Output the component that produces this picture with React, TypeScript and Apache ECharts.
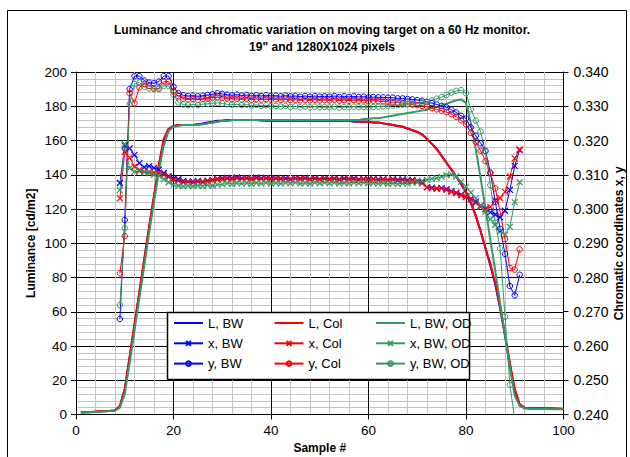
import React, { useEffect, useRef } from "react";
import * as echarts from "echarts";

const FONT = "'Liberation Sans', Arial, sans-serif";
const BLUE = "#0000ff";
const RED = "#ff0000";
const GREEN = "#339966";

const TITLE = 'Luminance and chromatic variation on moving target on a 60 Hz monitor.\n19" and 1280X1024 pixels';

// Sample numbers 1..100 for luminance; chromaticity starts at sample 9
const LUM_START = 1;
const CHROMA_START = 9;

// Luminance [cd/m2], samples 1..100
const L_BW = [
  1.2, 1.3, 1.3, 1.5, 1.8, 2, 2, 2.3,
  5, 14.5, 33, 52, 71, 90, 109, 127, 145, 160, 166.5, 168.5,
  169, 169, 169, 169, 169.5, 170, 170.5, 171, 171.5, 171.5,
  172, 172, 172, 172, 172, 172, 172, 172, 171.5, 171.5,
  171.5, 171.5, 171.5, 171.5, 171.5, 171.5, 171.5, 171.5, 171.5, 171.5,
  171.5, 171.5, 171.5, 171.5, 171.5, 171.5, 171, 171, 171, 171,
  170.5, 170.5, 170, 169.5, 169, 168.5, 168, 167, 166, 165,
  163.5, 161, 158, 155, 151, 147, 143, 139, 134.5, 129.5,
  123.5, 116, 107, 97, 87, 76, 62, 46, 29, 14,
  6, 4, 3.8, 3.6, 3.6, 3.5, 3.5, 3.4, 3.3, 3.2,
];
const L_COL = [
  1.5, 1.5, 1.5, 1.8, 2, 2, 2.2, 2.5,
  5, 15, 34, 53, 72, 91, 110, 128, 146, 161, 167, 168.5,
  169, 169, 169, 169, 169.5, 169.5, 170, 170.5, 171, 171.5,
  171.5, 172, 172, 172, 172, 172, 172, 171.5, 171.5, 171.5,
  171.5, 171.5, 171.5, 171.5, 171.5, 171.5, 171.5, 171.5, 171.5, 171.5,
  171.5, 171.5, 171.5, 171.5, 171.5, 171.5, 171.5, 171, 171, 171,
  170.5, 170.5, 170, 169.5, 169, 168.5, 168, 167, 166, 165,
  163.5, 161, 158, 155, 151, 147, 143, 139, 135, 130,
  124, 116, 107, 97, 88, 77, 63, 47, 30, 15,
  6, 4, 3.8, 3.8, 3.8, 3.8, 3.6, 3.6, 3.4, 3.2,
];
const L_BW_OD = [
  1.2, 1.2, 1.5, 1.5, 1.8, 1.8, 2, 2.2,
  4, 12, 30, 49, 68, 87, 106, 124, 142, 157, 165.5, 168,
  168.5, 169, 169, 169, 169, 169.5, 170, 170.5, 171, 171.5,
  171.5, 172, 172, 172, 172, 172, 172, 172, 172, 172,
  172, 172, 172, 172, 172, 172, 172, 172, 172, 172,
  172, 172, 172, 172, 172, 172, 172, 172, 172.5, 172.5,
  173, 173, 173.5, 174, 174.5, 175, 175.5, 176, 176.5, 177,
  177.5, 178, 179, 179.5, 180.5, 181.5, 182.5, 183.5, 184, 182,
  170, 155, 138, 120, 102, 84, 65, 46, 27, 11,
  5, 3.5, 3.2, 3.2, 3.2, 3.2, 3.2, 3, 3, 3,
];

// Chromatic coordinate x, samples 9..91
const X_BW = [
  0.3076, 0.3185, 0.3177, 0.3158, 0.3134, 0.3122, 0.3125, 0.312, 0.3115, 0.3105, 0.3096, 0.3089,
  0.3087, 0.3082, 0.308, 0.308, 0.3082, 0.308, 0.3083, 0.3085, 0.3088, 0.309,
  0.3091, 0.309, 0.3092, 0.309, 0.3091, 0.3089, 0.3092, 0.309, 0.3091, 0.3089,
  0.3091, 0.3089, 0.309, 0.3088, 0.309, 0.3089, 0.3091, 0.3088, 0.309, 0.3088,
  0.309, 0.3088, 0.3089, 0.3087, 0.309, 0.3088, 0.3089, 0.3086, 0.3088, 0.3087,
  0.3088, 0.3086, 0.3087, 0.3085, 0.3087, 0.3085, 0.3086, 0.3084, 0.3085, 0.3082,
  0.3078, 0.3064, 0.3062, 0.306, 0.3061, 0.3058, 0.3052, 0.3048, 0.3042, 0.3036,
  0.303, 0.3022, 0.301, 0.3, 0.299, 0.2984, 0.2976, 0.2995, 0.3056, 0.3126, 0.3172,
];
const X_COL = [
  0.3031, 0.3167, 0.315, 0.3124, 0.3114, 0.3109, 0.3108, 0.3106, 0.3105, 0.31, 0.3093, 0.3085,
  0.3082, 0.3078, 0.3079, 0.3077, 0.308, 0.3078, 0.3081, 0.3083, 0.3086, 0.3087,
  0.3089, 0.3087, 0.309, 0.3088, 0.3089, 0.3087, 0.309, 0.3088, 0.3089, 0.3087,
  0.3089, 0.3087, 0.3088, 0.3086, 0.3089, 0.3087, 0.3089, 0.3086, 0.3088, 0.3086,
  0.3088, 0.3086, 0.3088, 0.3085, 0.3088, 0.3086, 0.3087, 0.3085, 0.3087, 0.3085,
  0.3087, 0.3085, 0.3086, 0.3084, 0.3086, 0.3083, 0.3085, 0.3082, 0.3083, 0.308,
  0.3075, 0.3063, 0.306, 0.3059, 0.306, 0.3056, 0.305, 0.3046, 0.304, 0.3035,
  0.3028, 0.3018, 0.3006, 0.3, 0.3006, 0.3025, 0.3032, 0.305, 0.3095, 0.3148, 0.3174,
];
const X_BW_OD = [
  0.3055, 0.319, 0.3119, 0.3109, 0.311, 0.3107, 0.3105, 0.31, 0.3097, 0.3087, 0.3078, 0.3071,
  0.3068, 0.3066, 0.3068, 0.3066, 0.3068, 0.3067, 0.307, 0.3068, 0.3071, 0.3072,
  0.3075, 0.3073, 0.3076, 0.3074, 0.3076, 0.3073, 0.3076, 0.3074, 0.3077, 0.3074,
  0.3076, 0.3074, 0.3077, 0.3075, 0.3077, 0.3074, 0.3076, 0.3074, 0.3077, 0.3075,
  0.3077, 0.3075, 0.3077, 0.3074, 0.3076, 0.3075, 0.3077, 0.3075, 0.3077, 0.3075,
  0.3076, 0.3074, 0.3076, 0.3073, 0.3075, 0.3073, 0.3075, 0.3074, 0.3077, 0.3078,
  0.3082, 0.3085, 0.3088, 0.309, 0.3094, 0.3099, 0.3101, 0.3095, 0.308, 0.3065,
  0.3048, 0.3031, 0.301, 0.2992, 0.297, 0.2954, 0.2935, 0.2925, 0.2948, 0.302, 0.3078,
];

// Chromatic coordinate y, samples 9..91
const Y_BW = [
  0.2679, 0.2968, 0.335, 0.3388, 0.3388, 0.3375, 0.3369, 0.3367, 0.3372, 0.3388, 0.3388, 0.3357,
  0.3338, 0.3332, 0.333, 0.3331, 0.3329, 0.3331, 0.3333, 0.3335, 0.3338, 0.3336,
  0.3334, 0.3332, 0.3334, 0.3331, 0.3333, 0.333, 0.3332, 0.333, 0.3332, 0.333,
  0.3331, 0.3329, 0.3331, 0.3329, 0.333, 0.3328, 0.333, 0.3328, 0.333, 0.3328,
  0.3329, 0.3328, 0.333, 0.3327, 0.3329, 0.3327, 0.3329, 0.3327, 0.3328, 0.3326,
  0.3327, 0.3326, 0.3326, 0.3325, 0.3325, 0.3323, 0.3323, 0.3321, 0.332, 0.3318,
  0.3316, 0.3313, 0.3309, 0.3305, 0.3301, 0.3297, 0.329, 0.3282, 0.3272, 0.3264,
  0.3238, 0.3214, 0.3192, 0.317, 0.3106, 0.3021, 0.2942, 0.2869, 0.2775, 0.2748, 0.2808,
];
const Y_COL = [
  0.2812, 0.2921, 0.3338, 0.3309, 0.3355, 0.3365, 0.3359, 0.3352, 0.3352, 0.3372, 0.3372, 0.3343,
  0.333, 0.3322, 0.332, 0.3321, 0.3319, 0.3321, 0.3323, 0.3325, 0.3326, 0.3324,
  0.3323, 0.3321, 0.3322, 0.332, 0.3322, 0.3319, 0.3321, 0.3319, 0.3321, 0.3319,
  0.332, 0.3318, 0.332, 0.3318, 0.3319, 0.3317, 0.3319, 0.3317, 0.3319, 0.3317,
  0.3318, 0.3317, 0.3319, 0.3316, 0.3318, 0.3316, 0.3318, 0.3316, 0.3317, 0.3315,
  0.3316, 0.3315, 0.3314, 0.3313, 0.3312, 0.3311, 0.3309, 0.3307, 0.3305, 0.3303,
  0.3301, 0.3299, 0.3295, 0.3291, 0.3287, 0.3283, 0.3277, 0.3269, 0.3259, 0.3247,
  0.3222, 0.3195, 0.317, 0.314, 0.3105, 0.306, 0.2992, 0.2912, 0.2828, 0.2823, 0.2882,
];
const Y_BW_OD = [
  0.272, 0.2944, 0.3306, 0.3365, 0.3369, 0.3357, 0.3352, 0.335, 0.335, 0.3359, 0.3359, 0.3333,
  0.3311, 0.3305, 0.3303, 0.3305, 0.3303, 0.3306, 0.3307, 0.3309, 0.331, 0.3308,
  0.3306, 0.3304, 0.3306, 0.3303, 0.3305, 0.3302, 0.3304, 0.3301, 0.3303, 0.33,
  0.3301, 0.3299, 0.3301, 0.3298, 0.33, 0.3297, 0.3299, 0.3297, 0.3299, 0.3297,
  0.3298, 0.3297, 0.3299, 0.3296, 0.3298, 0.3297, 0.3299, 0.3297, 0.3298, 0.3297,
  0.3298, 0.3299, 0.33, 0.3301, 0.3302, 0.3303, 0.3305, 0.3306, 0.3308, 0.3309,
  0.3311, 0.3313, 0.3317, 0.3322, 0.3327, 0.3333, 0.334, 0.3345, 0.3347, 0.3338,
  0.3291, 0.3258, 0.3226, 0.3168, 0.307, 0.296, 0.2885, 0.2686, 0.2487, 0.2385,
];

const X_TICKS = { min: 0, max: 100, interval: 20 };
const LUM_TICKS = { min: 0, max: 200, interval: 20 };
const CHROMA_TICKS = { min: 0.24, max: 0.34, interval: 0.01 };

const CROSS = "path://M0,0L10,10M0,10L10,0";

function lumSeries(name: string, values: number[], color: string) {
  return {
    name,
    type: "line",
    xAxisIndex: 0,
    yAxisIndex: 0,
    data: values.map((v, i) => [i + LUM_START, v]),
    symbol: "none",
    lineStyle: { color, width: 2 },
    itemStyle: { color },
    z: 2,
  };
}

function chromaSeries(name: string, values: number[], color: string, kind: "x" | "y") {
  return {
    name,
    type: "line",
    xAxisIndex: 0,
    yAxisIndex: 1,
    data: values.map((v, i) => [i + CHROMA_START, v]),
    symbol: kind === "x" ? CROSS : "circle",
    symbolSize: kind === "x" ? 6 : 5.5,
    lineStyle: { color, width: 1 },
    itemStyle:
      kind === "x"
        ? { color, borderColor: color, borderWidth: 1.2 }
        : { color: "rgba(255,255,255,0)", borderColor: color, borderWidth: 1 },
    z: 3,
  };
}

function legendCol(names: string[], left: number) {
  return {
    data: names.map((n, i) =>
      i === 0 ? { name: n, itemStyle: { opacity: 0, color: "rgba(0,0,0,0)", borderWidth: 0 } } : { name: n }
    ),
    orient: "vertical",
    left,
    top: 311.5,
    itemWidth: 29,
    itemHeight: 6,
    itemGap: 7.3,
    selectedMode: false,
    textStyle: { fontFamily: FONT, fontSize: 13, color: "#000" },
    z: 6,
  };
}

export default function App() {
  const ref = useRef<HTMLDivElement>(null);
  useEffect(() => {
    if (!ref.current) return;
    const chart = echarts.init(ref.current, undefined, { renderer: "svg" });
    const axisLabel = { fontFamily: FONT, fontSize: 13.5, color: "#000" };
    const nameStyle = { fontFamily: FONT, fontSize: 12, fontWeight: "bold", color: "#000" };
    chart.setOption({
      animation: false,
      backgroundColor: "#fff",
      title: {
        text: TITLE,
        left: 317,
        textAlign: "center",
        top: 16,
        textStyle: { fontFamily: FONT, fontSize: 12, fontWeight: "bold", lineHeight: 17, color: "#000" },
      },
      graphic: [
        {
          type: "rect",
          shape: { x: 7.5, y: 10.5, width: 619, height: 470 },
          style: { fill: "none", stroke: "#000", lineWidth: 1 },
          silent: true,
          z: 1,
        },
        {
          type: "rect",
          shape: { x: 167.5, y: 312.5, width: 302, height: 67 },
          style: { fill: "#fff", stroke: "#000", lineWidth: 1.5 },
          silent: true,
          z: 5,
        },
      ],
      legend: [
        legendCol(["L, BW", "x, BW", "y, BW"], 168),
        legendCol(["L, Col", "x, Col", "y, Col"], 268.5),
        legendCol(["L, BW, OD", "x, BW, OD", "y, BW, OD"], 370),
      ],
      grid: {
        left: 76,
        right: 66.5,
        top: 72,
        bottom: 42.5,
        containLabel: false,
        outerBoundsMode: "none",
      },
      xAxis: {
        type: "value",
        ...X_TICKS,
        name: "Sample #",
        nameLocation: "middle",
        nameGap: 27,
        nameMoveOverlap: false,
        nameTextStyle: nameStyle,
        axisLine: { show: true, lineStyle: { color: "#000", width: 1 } },
        axisTick: { show: true, length: 5, inside: false, lineStyle: { color: "#000" } },
        axisLabel: { ...axisLabel, margin: 9 },
        splitLine: { show: true, lineStyle: { color: "#000", width: 1 } },
        minorTick: { show: false, splitNumber: 5 },
        minorSplitLine: { show: true, lineStyle: { color: "#c4c4c4", width: 1 } },
      },
      yAxis: [
        {
          type: "value",
          ...LUM_TICKS,
          name: "Luminance [cd/m2]",
          nameLocation: "middle",
          nameGap: 39,
          nameMoveOverlap: false,
          nameTextStyle: nameStyle,
          axisLine: { show: true, lineStyle: { color: "#000", width: 1 } },
          axisTick: { show: true, length: 5, inside: false, lineStyle: { color: "#000" } },
          axisLabel: { ...axisLabel, margin: 9 },
          splitLine: { show: true, lineStyle: { color: "#000", width: 1 } },
          minorTick: { show: false, splitNumber: 5 },
          minorSplitLine: { show: true, lineStyle: { color: "#c4c4c4", width: 1 } },
        },
        {
          type: "value",
          position: "right",
          ...CHROMA_TICKS,
          name: "Chromatic coordinates x, y",
          nameLocation: "middle",
          nameGap: 49,
          nameMoveOverlap: false,
          nameTextStyle: nameStyle,
          axisLine: { show: true, lineStyle: { color: "#000", width: 1 } },
          axisTick: { show: true, length: 5, inside: false, lineStyle: { color: "#000" } },
          axisLabel: { ...axisLabel, fontSize: 14, margin: 10, formatter: (v: number) => v.toFixed(3) },
          splitLine: { show: false },
        },
      ],
      series: [
        lumSeries("L, BW", L_BW, BLUE),
        lumSeries("L, Col", L_COL, RED),
        lumSeries("L, BW, OD", L_BW_OD, GREEN),
        chromaSeries("x, BW", X_BW, BLUE, "x"),
        chromaSeries("x, Col", X_COL, RED, "x"),
        chromaSeries("x, BW, OD", X_BW_OD, GREEN, "x"),
        chromaSeries("y, BW", Y_BW, BLUE, "y"),
        chromaSeries("y, Col", Y_COL, RED, "y"),
        chromaSeries("y, BW, OD", Y_BW_OD, GREEN, "y"),
      ],
    });
    return () => chart.dispose();
  }, []);
  return (
    <div
      ref={ref}
      style={{ position: "fixed", left: 0, top: 0, width: 630, height: 457, background: "#fff" }}
    />
  );
}
